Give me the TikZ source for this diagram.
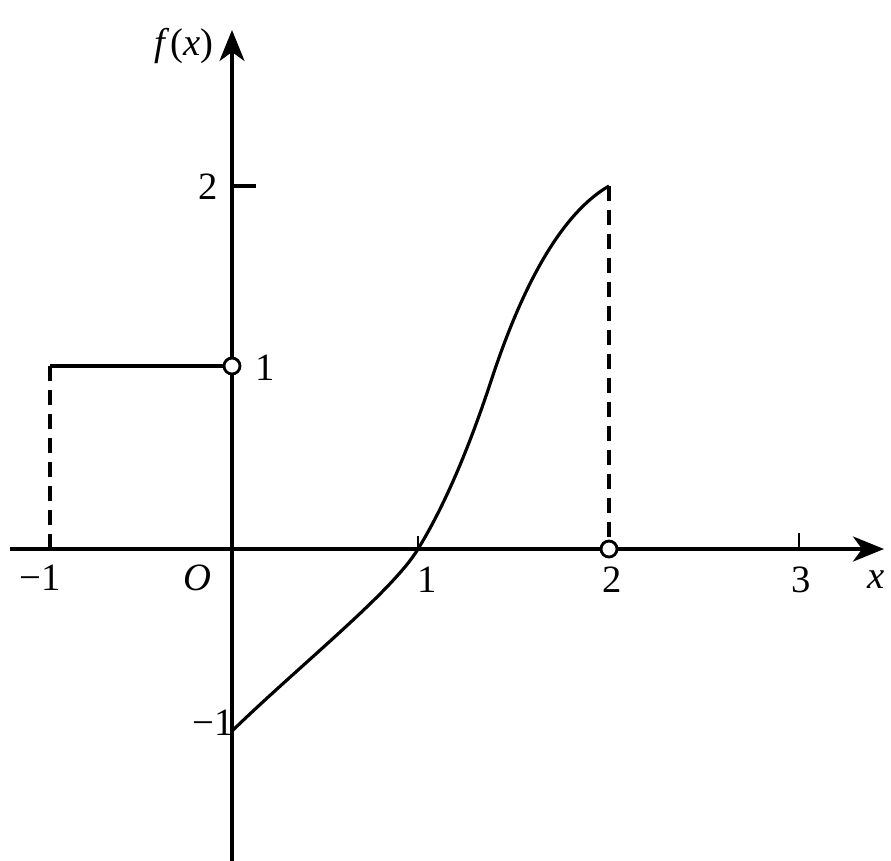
\documentclass[tikz,border=0pt]{standalone}
\usepackage{fontspec}
\setmainfont{Liberation Serif}
\usetikzlibrary{arrows.meta}
\begin{document}
\begin{tikzpicture}[x=0.02cm,y=-0.02cm,
  axis/.style={line width=2.2pt,-{Stealth[length=0.62cm,width=0.5cm,inset=0.18cm]}},
  graph/.style={line width=1.8pt,line join=round},
  guide/.style={line width=1.8pt,dash pattern=on 0.3cm off 0.18cm},
  lbl/.style={font=\fontsize{22}{26}\selectfont,inner sep=0pt},
  hole/.style={circle,draw,line width=1.6pt,fill=white,minimum size=0.32cm,inner sep=0pt}]
\useasboundingbox (0,0) rectangle (891,860);
\fill[white] (0,0) rectangle (891,860);
% named points
\coordinate (O) at (232,549);
\coordinate (xs) at (10,549);
\coordinate (xe) at (884,549);
\coordinate (ys) at (232,862);
\coordinate (ye) at (232,30);
\coordinate (am1) at (50,549);
\coordinate (bm1) at (50,366);
\coordinate (p1) at (232,366);
\coordinate (a2) at (609,549);
\coordinate (b2) at (609,186);
\coordinate (c0) at (232,731);
\coordinate (c1) at (418,549);
\coordinate (ci) at (492,378);
% axes
\draw[axis] (xs) -- (xe);
\draw[axis] (ys) -- (ye);
% ticks
\draw[line width=1.8pt] (232,186) -- (256,186);
\draw[line width=1.6pt] (799,549) -- (799,533);
\draw[line width=1.6pt] (418,549) -- (418,536);
% dashed guides
\draw[guide] (am1) -- (bm1);
\draw[guide] (b2) -- (a2);
% piece on [-1,0)
\draw[graph] (bm1) -- (p1);
% curve on [0,2]
\draw[graph] (c0) .. controls (300,665) and (392,592) .. (c1)
  .. controls (450,497) and (475,430) .. (ci)
  .. controls (512,318) and (550,220) .. (b2);
% open circles
\node[hole] (h1) at (p1) {};
\node[hole] (h2) at (a2) {};
% labels
\node[lbl] (lf) at (184,46) {\itshape f\/\upshape(\itshape x\upshape)};
\node[lbl] (l2y) at (208,187) {2};
\node[lbl] (l1y) at (265,368) {1};
\node[lbl] (lm1y) at (213,723) {−1};
\node[lbl] (lO) at (197,578) {\itshape O};
\node[lbl] (lm1x) at (40,578) {−1};
\node[lbl] (l1x) at (427,580) {1};
\node[lbl] (l2x) at (612,580) {2};
\node[lbl] (l3x) at (801,580) {3};
\node[lbl] (lx) at (876,580) {\itshape x};
\end{tikzpicture}
\end{document}
